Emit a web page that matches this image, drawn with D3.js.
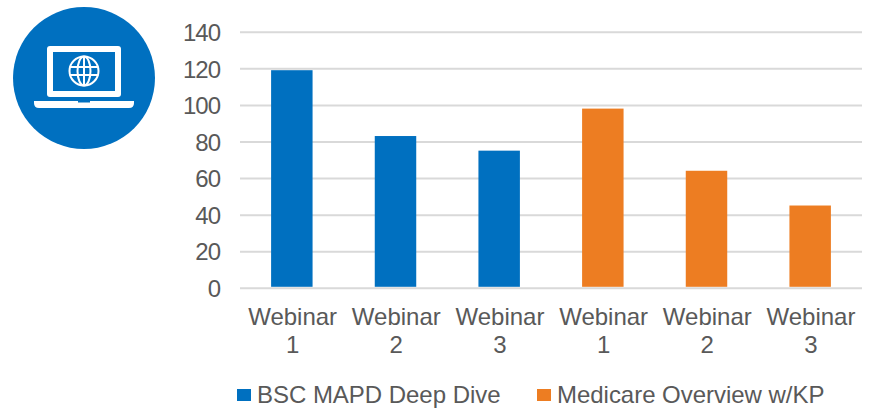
<!DOCTYPE html>
<html>
<head>
<meta charset="utf-8">
<script src="https://cdn.jsdelivr.net/npm/d3@7"></script>
<style>
html,body{margin:0;padding:0;background:#fff}
svg{display:block}
text{font-family:"Liberation Sans",Arial,sans-serif;fill:#595959}
</style>
</head>
<body>
<svg id="chart" width="879" height="408"></svg>
<script>
const categories = ["Webinar 1","Webinar 2","Webinar 3","Webinar 1 ","Webinar 2 ","Webinar 3 "];
const values = [119,83,75,98,64,45];
const groups = [0,0,0,1,1,1];
const seriesNames = ["BSC MAPD Deep Dive","Medicare Overview w/KP"];
const seriesColors = ["#0070c0","#ed7d22"];
const yTicks = [0,20,40,60,80,100,120,140];
const fontSize = 24;

const svg = d3.select("#chart");
const x = d3.scaleBand().domain(categories).range([240,862]).paddingInner(0.6).paddingOuter(0.3);
const y = d3.scaleLinear().domain([0,140]).range([287.8,31.8]);

// gridlines and value labels
const yAxis = d3.axisLeft(y).tickValues(yTicks).tickSize(-622).tickPadding(0).tickFormat(d3.format("d"));
const gy = svg.append("g").attr("transform","translate(240,0)").call(yAxis);
gy.select(".domain").remove();
gy.selectAll(".tick line").attr("stroke","#d9d9d9").attr("stroke-width",2);
gy.selectAll(".tick text").attr("x",-20).attr("font-size",fontSize).style("letter-spacing","-1px")
  .attr("text-anchor","end").attr("dy","0.36em");

// bars
svg.append("g").selectAll("rect").data(values).join("rect")
  .attr("x",(d,i)=>x(categories[i]))
  .attr("width",x.bandwidth())
  .attr("y",d=>y(d))
  .attr("height",d=>y(0)-y(d)-1)
  .attr("fill",(d,i)=>seriesColors[groups[i]]);

// two-line category labels
const labels = svg.append("g").selectAll("text").data(categories).join("text")
  .attr("text-anchor","middle").attr("font-size",fontSize);
labels.each(function(c){
  const cx = x(c)+x.bandwidth()/2+0.8;
  const parts = c.trim().split(" ");
  const t = d3.select(this);
  t.append("tspan").attr("x",cx).attr("y",325).text(parts[0]);
  t.append("tspan").attr("x",cx).attr("y",353).text(parts[1]);
});

// legend
const legendX = [237,537];
const legend = svg.append("g").selectAll("g").data(seriesNames).join("g")
  .attr("transform",(d,i)=>`translate(${legendX[i]},389)`);
legend.append("rect").attr("width",14).attr("height",12).attr("fill",(d,i)=>seriesColors[i]);
legend.append("text").attr("x",20).attr("y",14).attr("font-size",fontSize).style("letter-spacing","-0.03px").text(d=>d);

// laptop badge
const badge = svg.append("g").attr("transform","translate(84,78)");
badge.append("circle").attr("r",71).attr("fill","#0070c0");
badge.append("rect").attr("x",-37).attr("y",-32).attr("width",74).attr("height",51).attr("rx",3).attr("fill","#fff");
badge.append("rect").attr("x",-31).attr("y",-26).attr("width",62).attr("height",39).attr("fill","#0070c0");
badge.append("path").attr("fill","#fff")
  .attr("d","M-50,23H50V25Q50,30 45,30H-45Q-50,30 -50,25Z");
badge.append("rect").attr("x",-6).attr("y",23).attr("width",12).attr("height",1.5).attr("fill","#0070c0");
const globe = badge.append("g").attr("transform","translate(0,-7)").attr("fill","none").attr("stroke","#fff").attr("stroke-width",2);
globe.append("circle").attr("r",14.5);
globe.append("ellipse").attr("rx",6.5).attr("ry",14.5);
globe.append("line").attr("x1",-14.5).attr("x2",14.5).attr("y1",-4).attr("y2",-4);
globe.append("line").attr("x1",-14.5).attr("x2",14.5).attr("y1",4).attr("y2",4);
globe.append("line").attr("x1",0).attr("x2",0).attr("y1",-14.5).attr("y2",14.5);
</script>
</body>
</html>
